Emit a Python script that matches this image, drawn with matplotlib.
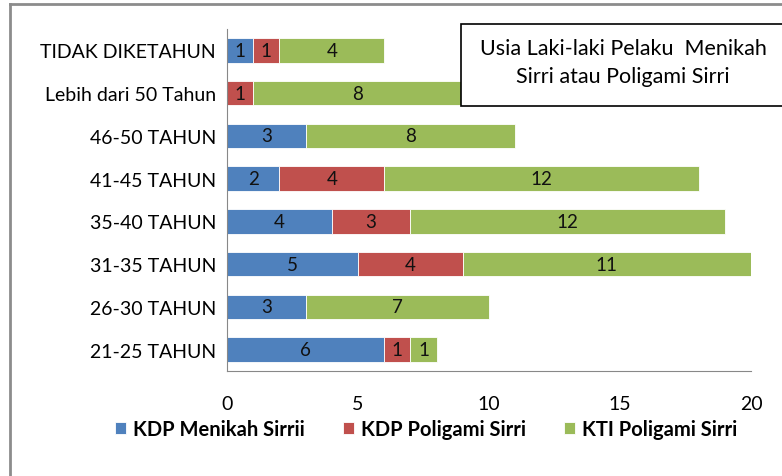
import matplotlib.pyplot as plt
from matplotlib.patches import Rectangle
from matplotlib.lines import Line2D

# categories bottom to top
kategori = ["21-25 TAHUN", "26-30 TAHUN", "31-35 TAHUN", "35-40 TAHUN",
            "41-45 TAHUN", "46-50 TAHUN", "Lebih dari 50 Tahun", "TIDAK DIKETAHUN"]
kdp_menikah = [6, 3, 5, 4, 2, 3, 0, 1]
kdp_poligami = [1, 0, 4, 3, 4, 0, 1, 1]
kti_poligami = [1, 7, 11, 12, 12, 8, 8, 4]
seri = ["KDP Menikah Sirrii", "KDP Poligami Sirri", "KTI Poligami Sirri"]
warna = ["#4F81BD", "#C0504D", "#9BBB59"]

plt.rcParams['font.family'] = ['Lato', 'DejaVu Sans']

fig = plt.figure(figsize=(7.82, 4.77), dpi=100)
ax = fig.add_axes([227/782, 1-372/477, (751-227)/782, (372-30)/477])

kiri = [0]*len(kategori)
for nilai, nama, w in zip([kdp_menikah, kdp_poligami, kti_poligami], seri, warna):
    bars = ax.barh(kategori, nilai, left=kiri, height=0.57, color=w,
                   edgecolor="white", linewidth=0.6, label=nama)
    ax.bar_label(bars, labels=[str(v) if v else "" for v in nilai],
                 label_type="center", fontsize=13.5, color="#111111")
    kiri = [a + b for a, b in zip(kiri, nilai)]

ax.set_xlim(0, 20)
ax.set_ylim(-0.5, len(kategori) - 0.5)
ax.set_xticks([0, 5, 10, 15, 20])
ax.tick_params(length=0, labelsize=14, pad=8)
ax.tick_params(axis="x", pad=17)
for s in ["top", "right"]:
    ax.spines[s].set_visible(False)
ax.spines["left"].set_color("#888888")
ax.spines["bottom"].set_color("#888888")
ax.spines["left"].set_linewidth(0.8)
ax.spines["bottom"].set_linewidth(0.8)

# legend
fig.legend(loc="center", bbox_to_anchor=(426/782, 1-430/477), ncol=3,
           frameon=False, prop={"weight": "bold", "size": 14.5},
           handlelength=0.55, handleheight=0.55, handletextpad=0.35,
           columnspacing=1.9)

# title box
fig.patches.append(Rectangle((461/782, 1-107/477), 0.5, 82/477,
                             transform=fig.transFigure, facecolor="white",
                             edgecolor="black", linewidth=1.2, zorder=5))
fig.text(623/782, 1-63/477, "Usia Laki-laki Pelaku  Menikah\nSirri atau Poligami Sirri",
         ha="center", va="center", fontsize=15.5, linespacing=1.45, zorder=6)

# outer chart border
fig.add_artist(Line2D([10/782, 1.0], [1-5/477, 1-5/477], color="#8c8c8c",
                      linewidth=2, transform=fig.transFigure))
fig.add_artist(Line2D([10/782, 10/782], [0, 1-5/477], color="#8c8c8c",
                      linewidth=2, transform=fig.transFigure))

fig.savefig("out.png", dpi=100)
